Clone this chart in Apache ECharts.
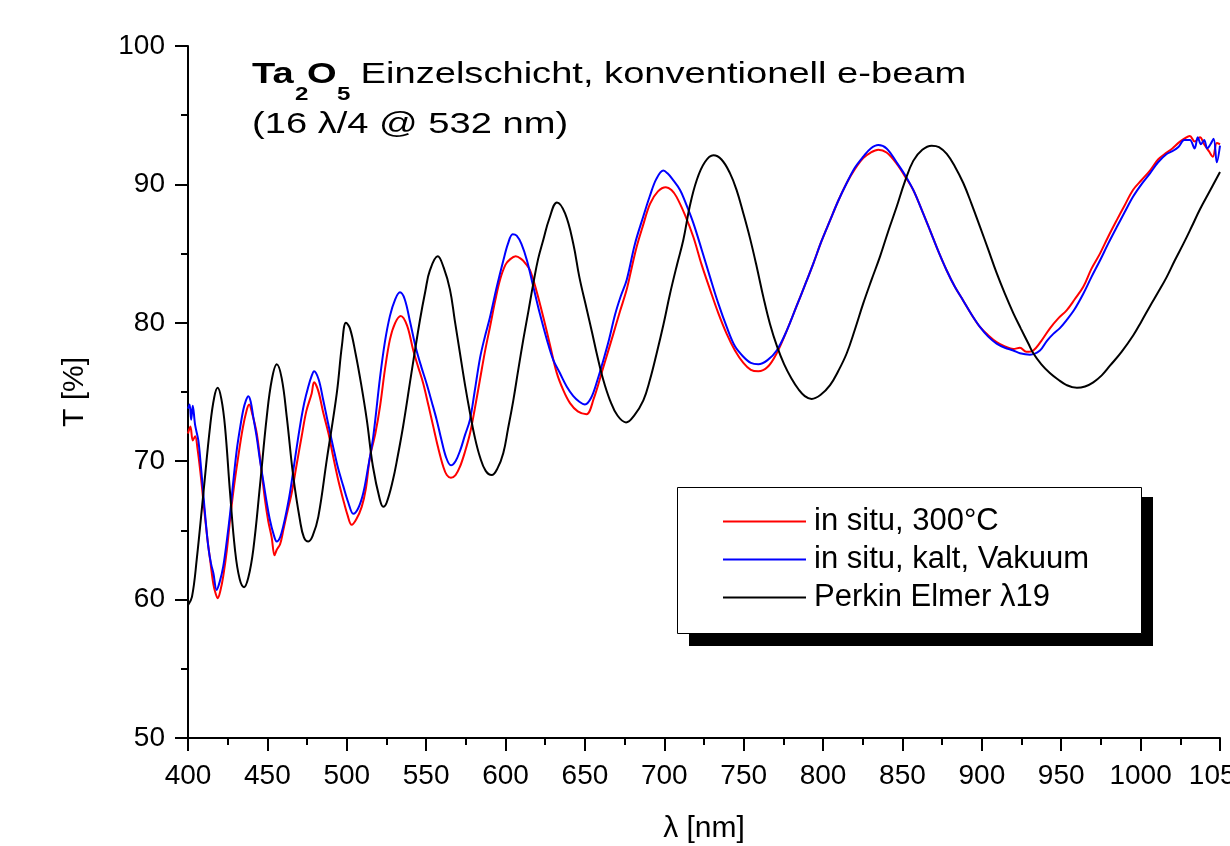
<!DOCTYPE html>
<html><head><meta charset="utf-8">
<script src="https://cdn.jsdelivr.net/npm/echarts@6/dist/echarts.min.js"></script>
<style>html,body{margin:0;padding:0;background:#fff}#c{width:1230px;height:846px}</style>
</head><body><div id="c"></div>
<script>
const FONT = "'Liberation Sans', Arial, Helvetica, sans-serif";

const seriesNames = ['in situ, 300°C', 'in situ, kalt, Vakuum', 'Perkin Elmer λ19'];

// in situ, 300°C  [wavelength nm, T %]
const inSitu300 = [
[400,72.0],[401.5,72.5],[403,71.5],[404.5,71.8],[406,70.9],[408,69.0],[409.6,67.2],[412,64.6],[413.9,62.9],[416,61.1],[417.5,60.4],[418.7,60.1],[420.5,60.7],[422.2,61.7],[424.5,63.6],[426.5,65.8],[429,68.2],[431.6,70.3],[434.5,72.4],[437,73.7],[438.5,74.1],[440.5,73.4],[443.3,72.0],[446,69.6],[448.5,67.2],[450.5,65.7],[452.7,64.5],[454.5,63.2],[455.9,63.6],[458,64.0],[460,65.0],[462.5,66.3],[465.3,67.7],[468.5,69.8],[471.6,71.8],[474.5,73.6],[477.9,74.9],[479.4,75.7],[482,75.1],[485.2,73.5],[488.5,72.0],[491.5,70.3],[494.5,68.7],[497.8,67.2],[500.5,66.1],[503.1,65.4],[506,65.8],[509.4,66.7],[512,68.0],[514.6,70.3],[518,72.0],[521,74.0],[524,76.6],[527.2,78.8],[530.5,80.0],[534,80.5],[538,79.8],[541.9,78.0],[545,76.8],[548.2,75.6],[551.5,74.0],[554.5,72.5],[557.5,71.0],[560.8,69.6],[563,69.0],[565.6,68.8],[568.5,69.0],[571.3,69.6],[574.5,70.7],[577.6,72.0],[580.5,73.7],[583.9,75.9],[587,77.9],[590.2,79.7],[593.5,81.6],[596.5,83.1],[600,84.2],[603,84.6],[606.4,84.8],[610,84.6],[612.5,84.3],[615.4,83.8],[619.5,82.3],[623.8,80.4],[628,78.4],[632.2,76.4],[636.5,75.1],[640.6,74.2],[645.5,73.6],[651,73.4],[655.5,74.5],[661.6,76.8],[664.5,77.9],[667.9,79.2],[672,80.8],[676.3,82.4],[679.5,84.0],[682.6,85.5],[686.5,87.0],[691,88.6],[696,89.5],[701,89.8],[704.5,89.6],[707.7,89.1],[713,87.8],[718.3,86.2],[723.5,84.2],[728.8,82.4],[734,80.7],[739.3,79.2],[744.5,78.0],[749.8,77.1],[754.5,76.6],[759.2,76.5],[765,76.8],[770.8,77.8],[777,79.4],[783.3,81.2],[788.5,82.7],[793.9,84.3],[799,85.9],[804.4,87.4],[809.5,88.8],[814.9,90.1],[820,91.1],[825.3,91.9],[830,92.3],[834.8,92.5],[840,92.3],[846.3,91.5],[851.5,90.6],[856.8,89.6],[862,88.2],[867.3,86.7],[872.5,85.2],[877.8,83.8],[883,82.6],[888.3,81.6],[893.5,80.6],[898.8,79.7],[904,79.1],[909.3,78.6],[914.5,78.3],[919.8,78.1],[924,78.2],[928,77.9],[932.4,78.0],[937.5,78.7],[942.9,79.6],[948,80.3],[953.4,80.9],[958.5,81.7],[963.9,82.6],[969,83.9],[974.4,85.0],[979.5,86.2],[984.9,87.4],[990,88.5],[995.2,89.6],[1000.5,90.3],[1005.9,91.0],[1011,91.8],[1016.4,92.3],[1020,92.6],[1023.8,93.0],[1027.5,93.3],[1031,93.5],[1034,93.1],[1037.4,93.4],[1040,92.9],[1043,92.4],[1045.5,92.0],[1048,93.0],[1050,92.9]
];

// in situ, kalt, Vakuum
const inSituKalt = [
[400,73.8],[401,74.1],[402,73.0],[403,74.0],[404.5,72.6],[406.5,71.5],[408,69.8],[409.6,67.7],[411.2,65.6],[412.8,63.8],[414.5,62.6],[416,61.9],[418,60.7],[420,61.3],[422.2,62.4],[424.5,64.3],[426.5,66.2],[428.5,68.5],[430.7,70.8],[432.8,72.4],[434.8,73.7],[436.5,74.4],[438,74.7],[439.5,74.3],[441.1,73.2],[443.2,71.8],[445.3,70.1],[447.5,68.5],[449.6,67.0],[451.5,65.8],[453.7,64.8],[455.9,64.2],[458,64.5],[460,65.3],[462.1,66.4],[464.2,67.7],[467.3,70.1],[470.5,72.5],[473.2,74.2],[475.8,75.4],[478,76.2],[479.4,76.5],[482.3,75.9],[485.2,74.4],[488.3,72.7],[491.5,71.0],[494.5,69.5],[497.8,68.2],[501,67.0],[504.1,66.2],[507.2,66.6],[510.4,67.7],[513.5,69.6],[516.7,71.8],[520.9,76.0],[524,78.6],[527.2,80.5],[530.5,81.7],[533.5,82.2],[536.5,81.7],[540,80.0],[543.5,78.2],[547,76.8],[550.3,75.6],[553.5,74.3],[556.6,73.0],[559.5,71.6],[562.5,70.3],[565.6,69.7],[568.5,70.0],[571.5,70.8],[574.5,71.9],[577.6,73.0],[580.5,75.0],[584,77.5],[587,79.0],[590.2,80.4],[594.5,82.6],[598.6,84.5],[601.5,85.7],[604.5,86.4],[607,86.3],[610,85.7],[613.5,84.5],[617.5,82.6],[621.5,80.7],[626,78.8],[630.1,77.3],[634.3,76.35],[638.5,75.4],[642.7,74.7],[646.5,74.3],[650,74.1],[654,74.6],[658,75.9],[661.6,77.3],[665,78.7],[669,80.6],[672.5,81.9],[676.3,83.1],[681.5,85.7],[686.8,87.7],[691,89.2],[695,90.4],[699.4,91.0],[702,90.8],[705,90.4],[709.9,89.6],[714,88.5],[718.3,87.2],[723.5,85.3],[728.8,83.3],[734,81.4],[739.3,79.7],[744.5,78.3],[749.8,77.55],[754.5,77.1],[759.2,77.0],[765,77.3],[770.8,78.0],[777,79.4],[783.3,81.2],[788.5,82.7],[793.9,84.3],[799,85.9],[804.4,87.4],[809.5,88.8],[814.9,90.1],[820,91.2],[825.3,92.0],[830,92.6],[834.8,92.85],[840,92.6],[846.3,91.6],[851.5,90.7],[856.8,89.6],[862,88.2],[867.3,86.7],[872.5,85.2],[877.8,83.8],[883,82.6],[888.3,81.6],[893.5,80.6],[898.8,79.7],[904,79.0],[909.3,78.5],[914.5,78.2],[919.8,78.0],[924,77.8],[930.3,77.7],[936.6,78.0],[941,78.7],[945,79.2],[949,79.6],[953.4,80.2],[958.5,81.0],[963.9,82.1],[969,83.3],[974.4,84.5],[979.5,85.7],[984.9,86.9],[990,88.0],[995.2,89.1],[1000.5,90.0],[1005.9,90.8],[1011,91.6],[1016.4,92.2],[1020,92.4],[1023.8,92.7],[1027.5,93.2],[1031,93.2],[1034,92.6],[1036,93.4],[1038,92.9],[1040,93.2],[1042,92.6],[1044,92.9],[1046,93.3],[1048,91.6],[1050,92.8]
];

// Perkin Elmer λ19
const perkinElmer = [
[400,59.6],[402.5,60.2],[405.5,62.9],[409.7,67.7],[413.9,72.5],[416.5,74.6],[418.7,75.3],[421,74.5],[423.3,72.5],[426.5,67.7],[429.6,63.6],[432.5,61.5],[435.3,60.9],[438,61.6],[441.1,63.6],[445.3,68.2],[449.6,73.2],[452.8,75.9],[455.9,77.0],[459,76.0],[462.2,73.2],[466.3,68.9],[470.5,65.75],[473,64.5],[475.8,64.2],[478.5,64.6],[482.1,66.0],[487.4,70.1],[493.7,74.9],[497,78.4],[499.5,80.0],[502,79.6],[505.5,77.8],[509,75.6],[512.6,73.0],[516.5,69.6],[520.9,67.2],[523,66.7],[525.1,67.0],[529,68.6],[532,70.3],[535.6,72.6],[540.5,76.2],[546.1,80.2],[549.5,82.3],[552.4,83.8],[557.3,84.8],[561,84.0],[565,82.4],[568,80.2],[571.3,77.8],[574.5,75.5],[577.6,73.5],[580.5,71.8],[583.9,70.3],[587.5,69.3],[591.3,69.0],[595,69.5],[598.6,70.6],[601.5,72.3],[604.9,74.4],[608,76.6],[611.2,78.8],[614.5,80.9],[617.5,82.85],[620.5,84.6],[623.8,86.0],[627.5,87.5],[632.4,88.7],[637.5,87.9],[642.7,85.7],[646.5,83.3],[651.1,81.0],[654.5,79.3],[657.4,77.8],[661.5,75.9],[665.8,74.4],[670.5,73.3],[675.9,72.8],[681,73.3],[686.8,74.4],[691,75.9],[695.2,77.8],[699.5,79.9],[703.6,82.1],[708,84.2],[712,86.0],[716,88.4],[720.4,90.3],[725.5,91.6],[730.9,92.1],[736,91.8],[741.4,90.8],[745.5,89.6],[749.8,87.9],[754,86.1],[758.2,84.05],[762.5,81.8],[766.6,79.9],[771,78.3],[775.5,77.0],[780,76.0],[784.5,75.2],[788.5,74.7],[792.8,74.5],[798.5,74.8],[804.4,75.5],[809.5,76.5],[814.9,77.8],[820,79.5],[825.3,81.4],[830.5,83.1],[835.9,84.8],[841,86.6],[846.4,88.4],[851.5,90.2],[856.8,91.7],[862.5,92.5],[868.4,92.8],[873,92.7],[877.9,92.2],[883,91.3],[888.3,90.1],[893.5,88.6],[898.8,86.95],[904,85.3],[909.3,83.6],[914.5,82.1],[919.8,80.7],[924.5,79.6],[929.3,78.5],[932.4,77.8],[937.5,77.0],[943,76.35],[948,75.9],[953.4,75.5],[959.9,75.3],[965,75.4],[970.2,75.7],[975.5,76.2],[980.7,76.9],[988,77.9],[995.4,79.1],[1000.5,80.1],[1005.9,81.2],[1011,82.2],[1016.4,83.3],[1021.5,84.5],[1026.9,85.7],[1032,86.9],[1037.4,88.2],[1043.5,89.5],[1050,90.9]
];

const xRange = [400, 1050, 50];
const yRange = [50, 100, 10];

const chart = echarts.init(document.getElementById('c'), null, {renderer: 'canvas'});

const SX = 1.27;
function t(text, x, y, size, bold, extra) {
  return Object.assign({
    type: 'text', x: x, y: y, scaleX: SX, z: 20,
    style: {text: text, fontSize: size, fontWeight: bold ? 'bold' : 'normal',
            fontFamily: FONT, fill: '#000', align: 'left', verticalAlign: 'middle'}
  }, extra || {});
}

const axisCommon = {
  type: 'value',
  axisLine: {show: true, onZero: false, lineStyle: {color: '#000', width: 2}},
  axisTick: {show: true, inside: false, length: 13, lineStyle: {color: '#000', width: 2}},
  minorTick: {show: true, splitNumber: 2, length: 7, lineStyle: {color: '#000', width: 2}},
  splitLine: {show: false},
  minorSplitLine: {show: false},
  nameTextStyle: {color: '#000', fontSize: 30, fontFamily: FONT}
};

const plainNum = function (v) { return String(v); };

chart.setOption({
  animation: false,
  backgroundColor: '#fff',
  grid: {left: 188, right: 10, top: 46, bottom: 108, containLabel: false, outerBoundsMode: 'none'},
  xAxis: Object.assign({}, axisCommon, {
    min: xRange[0], max: xRange[1], interval: xRange[2],
    axisLabel: {color: '#000', fontSize: 28, fontFamily: FONT, margin: 24, showMaxLabel: true, showMinLabel: true, formatter: plainNum},
    name: 'λ [nm]', nameLocation: 'middle', nameGap: 76
  }),
  yAxis: Object.assign({}, axisCommon, {
    min: yRange[0], max: yRange[1], interval: yRange[2],
    axisLabel: {color: '#000', fontSize: 28, fontFamily: FONT, margin: 23, formatter: plainNum},
    name: 'T [%]', nameLocation: 'middle', nameGap: 98, nameRotate: 90
  }),
  legend: {
    data: seriesNames, orient: 'vertical', left: 723, top: 506, padding: 0,
    itemGap: 7, itemWidth: 83, itemHeight: 2, icon: 'rect', selectedMode: false, z: 10,
    textStyle: {color: '#000', fontSize: 31, fontFamily: FONT, padding: [0, 0, 0, 3]}
  },
  graphic: [
    {type: 'rect', z: 8, shape: {x: 689, y: 497, width: 464, height: 149}, style: {fill: '#000'}},
    {type: 'rect', z: 9, shape: {x: 677.5, y: 487.5, width: 464, height: 146}, style: {fill: '#fff', stroke: '#000', lineWidth: 1}},
    t('Ta', 252, 75, 30, true),
    t('2', 295, 95, 19, true),
    t('O', 307, 75, 30, true),
    t('5', 337, 95, 19, true),
    t(' Einzelschicht, konventionell e-beam', 350, 75, 30, false),
    t('(16 λ/4 @ 532 nm)', 252, 125, 30, false)
  ],
  series: [
    {name: seriesNames[0], type: 'line', data: inSitu300, showSymbol: false, symbol: 'none', smooth: 0.35,
     color: '#ff0000', lineStyle: {color: '#ff0000', width: 2}, z: 2},
    {name: seriesNames[1], type: 'line', data: inSituKalt, showSymbol: false, symbol: 'none', smooth: 0.35,
     color: '#0000ff', lineStyle: {color: '#0000ff', width: 2}, z: 3},
    {name: seriesNames[2], type: 'line', data: perkinElmer, showSymbol: false, symbol: 'none', smooth: 0.4,
     color: '#000000', lineStyle: {color: '#000000', width: 2}, z: 4}
  ]
});
</script></body></html>
